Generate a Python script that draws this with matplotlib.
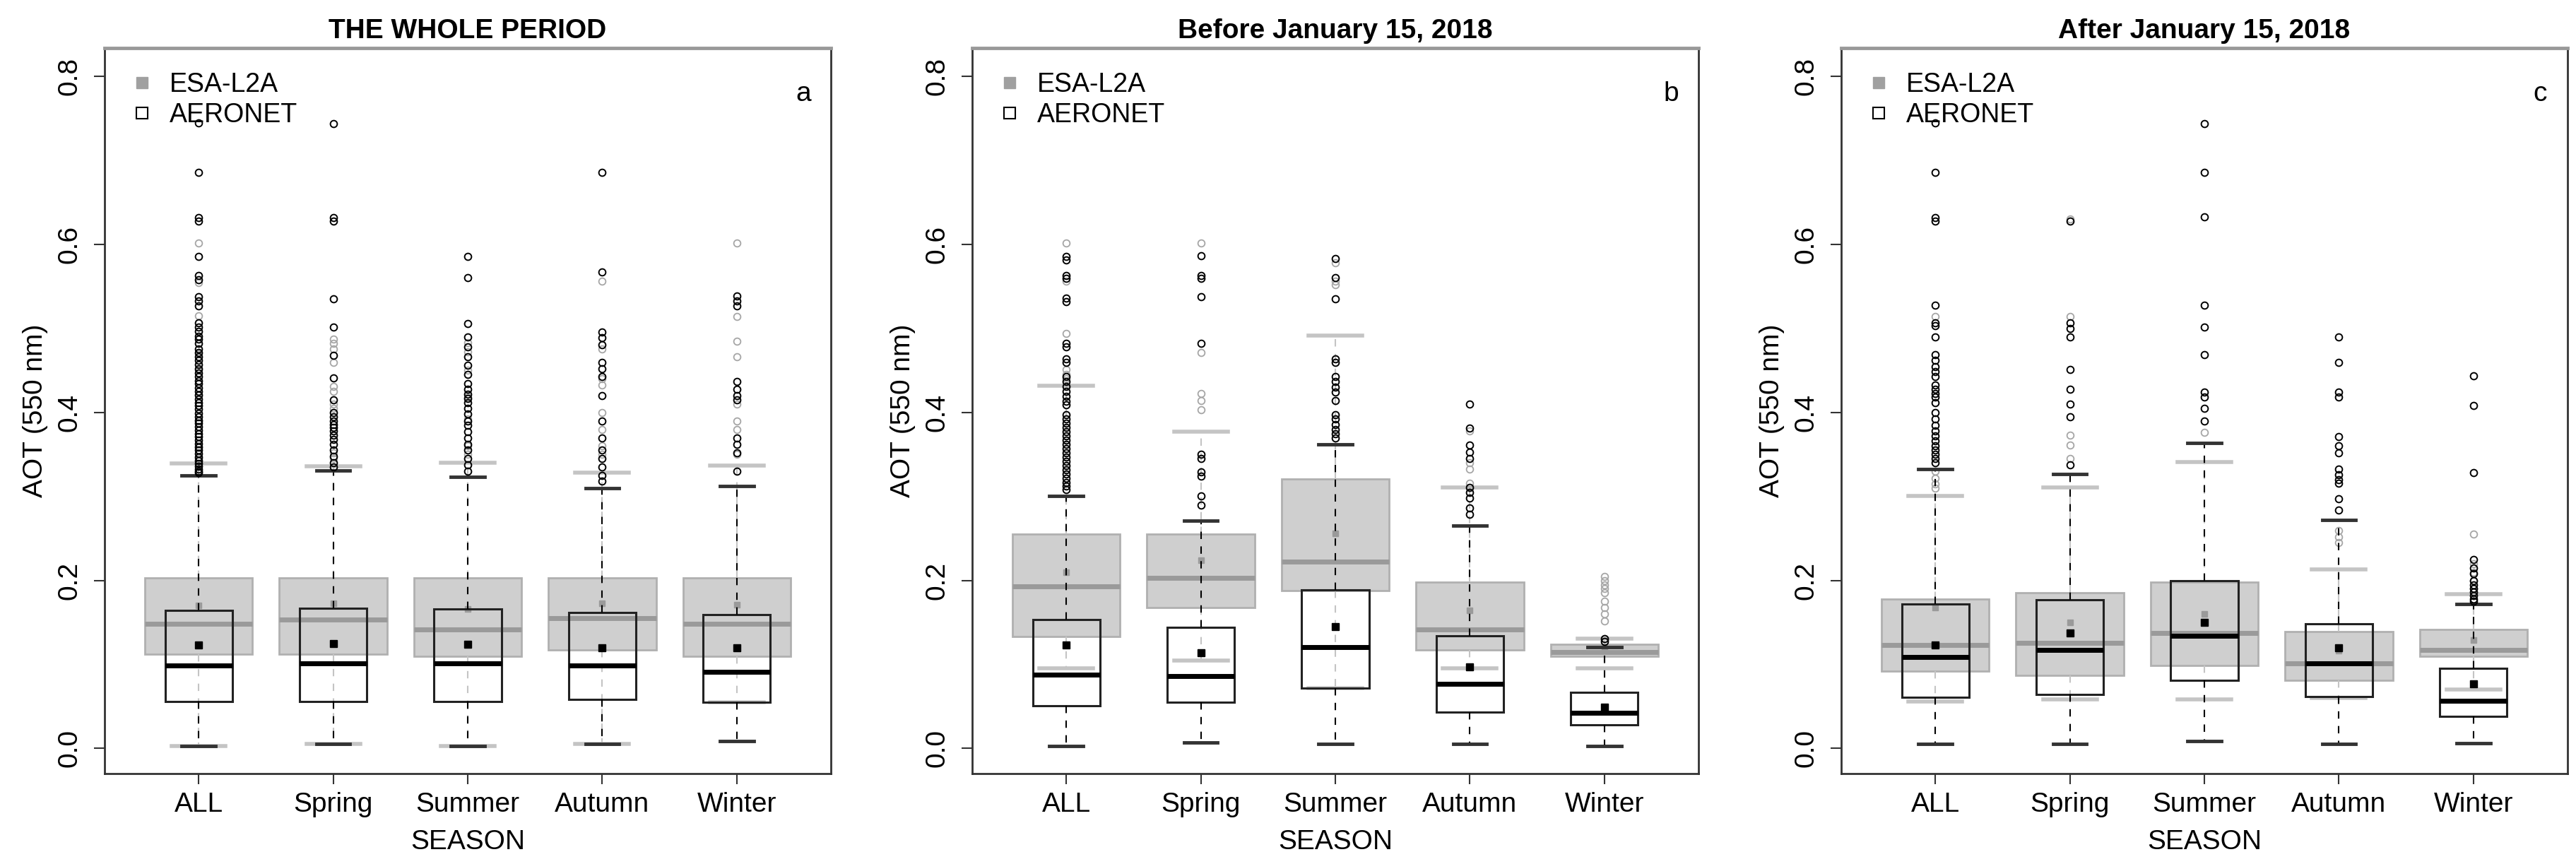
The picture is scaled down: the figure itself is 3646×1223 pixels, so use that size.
import matplotlib
matplotlib.use("Agg")
import matplotlib.pyplot as plt
from matplotlib.lines import Line2D

plt.rcParams['font.family'] = ['Liberation Sans', 'DejaVu Sans']

seasons = ["ALL", "Spring", "Summer", "Autumn", "Winter"]
titles = ["THE WHOLE PERIOD", "Before January 15, 2018", "After January 15, 2018"]
letters = ["a", "b", "c"]

# box stats per season: (whisker low, q1, median, q3, whisker high, mean)
whole_esa = [(0.003, 0.112, 0.148, 0.203, 0.339, 0.170),
             (0.005, 0.112, 0.153, 0.203, 0.336, 0.173),
             (0.003, 0.110, 0.142, 0.203, 0.340, 0.166),
             (0.005, 0.117, 0.155, 0.203, 0.328, 0.173),
             (0.055, 0.110, 0.148, 0.203, 0.337, 0.171)]
whole_aer = [(0.003, 0.056, 0.099, 0.164, 0.325, 0.123),
             (0.005, 0.056, 0.101, 0.167, 0.331, 0.125),
             (0.003, 0.056, 0.101, 0.166, 0.323, 0.124),
             (0.005, 0.058, 0.099, 0.162, 0.310, 0.120),
             (0.009, 0.055, 0.091, 0.159, 0.312, 0.120)]
before_esa = [(0.095, 0.133, 0.193, 0.255, 0.432, 0.210),
              (0.105, 0.168, 0.203, 0.255, 0.377, 0.224),
              (0.072, 0.188, 0.222, 0.321, 0.492, 0.256),
              (0.095, 0.117, 0.142, 0.198, 0.311, 0.164),
              (0.095, 0.110, 0.115, 0.124, 0.131, 0.120)]
before_aer = [(0.003, 0.051, 0.088, 0.153, 0.301, 0.123),
              (0.007, 0.055, 0.086, 0.144, 0.271, 0.114),
              (0.005, 0.072, 0.121, 0.189, 0.362, 0.145),
              (0.005, 0.043, 0.077, 0.134, 0.265, 0.097),
              (0.003, 0.028, 0.042, 0.067, 0.121, 0.049)]
after_esa = [(0.056, 0.092, 0.123, 0.178, 0.301, 0.168),
             (0.058, 0.087, 0.126, 0.185, 0.311, 0.150),
             (0.058, 0.099, 0.137, 0.198, 0.341, 0.160),
             (0.060, 0.081, 0.101, 0.139, 0.213, 0.116),
             (0.070, 0.110, 0.117, 0.142, 0.184, 0.129)]
after_aer = [(0.005, 0.061, 0.109, 0.172, 0.333, 0.123),
             (0.005, 0.064, 0.117, 0.177, 0.327, 0.137),
             (0.009, 0.081, 0.134, 0.200, 0.364, 0.150),
             (0.005, 0.062, 0.101, 0.148, 0.272, 0.120),
             (0.006, 0.038, 0.057, 0.095, 0.172, 0.077)]

# outliers per season
whole_esa_out = [[0.602, 0.555, 0.515, 0.470, 0.450, 0.420, 0.390, 0.360, 0.345],
                 [0.487, 0.482, 0.476, 0.460, 0.431, 0.425, 0.410, 0.405, 0.352, 0.345],
                 [0.483, 0.472, 0.450, 0.418, 0.392, 0.360, 0.350],
                 [0.556, 0.476, 0.440, 0.433, 0.400, 0.380, 0.360, 0.350],
                 [0.602, 0.514, 0.485, 0.466, 0.410, 0.390, 0.380, 0.350]]
whole_aer_out = [[0.745, 0.686, 0.632, 0.628, 0.586, 0.563, 0.558, 0.538, 0.533, 0.527,
                  0.507, 0.502, 0.497, 0.491, 0.487, 0.482, 0.476, 0.471, 0.466, 0.462,
                  0.457, 0.452, 0.447, 0.443, 0.438, 0.434, 0.429, 0.425, 0.421, 0.416,
                  0.412, 0.408, 0.404, 0.399, 0.395, 0.391, 0.387, 0.383, 0.379, 0.375,
                  0.371, 0.367, 0.363, 0.359, 0.355, 0.351, 0.347, 0.343, 0.339, 0.336,
                  0.333, 0.330, 0.328],
                 [0.744, 0.632, 0.628, 0.535, 0.502, 0.468, 0.441, 0.415, 0.400, 0.395,
                  0.390, 0.386, 0.382, 0.378, 0.373, 0.368, 0.362, 0.355, 0.348, 0.340, 0.335],
                 [0.586, 0.561, 0.506, 0.490, 0.478, 0.466, 0.456, 0.445, 0.434, 0.428,
                  0.422, 0.417, 0.412, 0.405, 0.398, 0.390, 0.385, 0.377, 0.370, 0.362,
                  0.355, 0.345, 0.338, 0.330],
                 [0.686, 0.567, 0.496, 0.489, 0.481, 0.460, 0.452, 0.443, 0.420, 0.390,
                  0.370, 0.355, 0.345, 0.335, 0.325, 0.318],
                 [0.539, 0.533, 0.527, 0.437, 0.428, 0.420, 0.415, 0.370, 0.362, 0.352, 0.330]]
before_esa_out = [[0.602, 0.556, 0.494, 0.451, 0.445, 0.440],
                  [0.602, 0.471, 0.423, 0.414, 0.403],
                  [0.578, 0.556, 0.552],
                  [0.378, 0.340, 0.333, 0.316],
                  [0.205, 0.200, 0.195, 0.190, 0.185, 0.175, 0.168, 0.160, 0.152]]
before_aer_out = [[0.586, 0.582, 0.563, 0.560, 0.536, 0.532, 0.482, 0.478, 0.464, 0.460,
                   0.443, 0.437, 0.431, 0.425, 0.419, 0.413, 0.409, 0.397, 0.392, 0.387,
                   0.382, 0.377, 0.372, 0.367, 0.362, 0.357, 0.352, 0.347, 0.342, 0.337,
                   0.332, 0.327, 0.322, 0.317, 0.312, 0.308],
                  [0.587, 0.563, 0.560, 0.538, 0.482, 0.350, 0.345, 0.329, 0.324, 0.301, 0.290],
                  [0.583, 0.561, 0.535, 0.464, 0.460, 0.443, 0.437, 0.430, 0.424, 0.414,
                   0.397, 0.392, 0.386, 0.380, 0.375, 0.370],
                  [0.410, 0.381, 0.361, 0.353, 0.345, 0.311, 0.305, 0.298, 0.286, 0.279],
                  [0.131, 0.127]]
after_esa_out = [[0.514, 0.330, 0.322, 0.315, 0.310],
                 [0.630, 0.514, 0.373, 0.361, 0.345],
                 [0.376],
                 [0.259, 0.252, 0.245],
                 [0.255, 0.220, 0.210, 0.200, 0.190]]
after_aer_out = [[0.745, 0.686, 0.632, 0.628, 0.528, 0.507, 0.503, 0.490, 0.469, 0.462,
                  0.455, 0.449, 0.443, 0.433, 0.428, 0.423, 0.418, 0.412, 0.400, 0.392,
                  0.385, 0.378, 0.372, 0.366, 0.360, 0.355, 0.350, 0.345, 0.340],
                 [0.628, 0.507, 0.500, 0.490, 0.451, 0.428, 0.410, 0.395, 0.338],
                 [0.744, 0.686, 0.633, 0.528, 0.502, 0.469, 0.424, 0.418, 0.405, 0.390],
                 [0.490, 0.460, 0.424, 0.418, 0.371, 0.360, 0.352, 0.333, 0.326, 0.320,
                  0.316, 0.297, 0.284],
                 [0.444, 0.408, 0.328, 0.225, 0.215, 0.208, 0.200, 0.195, 0.190, 0.186,
                  0.182, 0.178, 0.175]]

FS = 28
positions = list(range(1, len(seasons) + 1))


def make_stats(stats, outliers):
    return [dict(whislo=s[0], q1=s[1], med=s[2], q3=s[3], whishi=s[4], mean=s[5], fliers=o)
            for s, o in zip(stats, outliers)]


def draw_panel(ax, esa, aer, esa_out, aer_out, title, letter):
    # ESA-L2A: wide grey boxes
    ax.bxp(make_stats(esa, esa_out), positions=positions, widths=0.8, capwidths=0.4,
           showmeans=True, patch_artist=True, zorder=1,
           boxprops=dict(facecolor="#cfcfcf", edgecolor="#b0b0b0", linewidth=2),
           whiskerprops=dict(color="#c4c4c4", linewidth=1.5, linestyle=(0, (5, 5))),
           capprops=dict(color="#c4c4c4", linewidth=4),
           medianprops=dict(color="#9a9a9a", linewidth=5),
           meanprops=dict(marker="s", markersize=6, markerfacecolor="#9a9a9a",
                          markeredgecolor="#9a9a9a"),
           flierprops=dict(marker="o", markersize=7, markerfacecolor="none",
                           markeredgecolor="#a6a6a6", markeredgewidth=1.3))
    # AERONET: narrow open boxes
    ax.bxp(make_stats(aer, aer_out), positions=positions, widths=0.5, capwidths=0.25,
           showmeans=True, patch_artist=True, zorder=2,
           boxprops=dict(facecolor="none", edgecolor="#222222", linewidth=2.2),
           whiskerprops=dict(color="black", linewidth=1.5, linestyle=(0, (5, 5))),
           capprops=dict(color="#333333", linewidth=3.5),
           medianprops=dict(color="black", linewidth=5),
           meanprops=dict(marker="s", markersize=7, markerfacecolor="black",
                          markeredgecolor="black"),
           flierprops=dict(marker="o", markersize=7, markerfacecolor="none",
                           markeredgecolor="black", markeredgewidth=1.4))

    ax.set_xlim(0.3, 5.7)
    ax.set_ylim(-0.03, 0.834)
    ax.set_xticks(positions)
    ax.set_xticklabels(seasons, fontsize=FS)
    ax.set_yticks([0.0, 0.2, 0.4, 0.6, 0.8])
    ax.set_yticklabels(["0.0", "0.2", "0.4", "0.6", "0.8"], fontsize=FS,
                       rotation=90, va="center")
    ax.tick_params(axis="both", length=11, width=1.5, color="#333333")
    ax.tick_params(axis="x", pad=8)
    ax.tick_params(axis="y", pad=12)
    for side in ["left", "bottom", "right"]:
        ax.spines[side].set_linewidth(2)
        ax.spines[side].set_color("#333333")
    ax.spines["top"].set_linewidth(3.5)
    ax.spines["top"].set_color("#999999")

    ax.set_xlabel("SEASON", fontsize=FS, labelpad=12)
    ax.set_ylabel("AOT (550 nm)", fontsize=FS, labelpad=9)
    ax.set_title(title, fontsize=FS, fontweight="bold", pad=10)
    ax.text(0.962, 0.937, letter, transform=ax.transAxes, fontsize=FS,
            ha="center", va="center")

    handles = [Line2D([], [], linestyle="none", marker="s", markersize=11,
                      markerfacecolor="#a0a0a0", markeredgecolor="#a0a0a0"),
               Line2D([], [], linestyle="none", marker="s", markersize=11,
                      markerfacecolor="none", markeredgecolor="black", markeredgewidth=1.5)]
    ax.legend(handles, ["ESA-L2A", "AERONET"], loc="upper left", frameon=False,
              fontsize=FS - 1, handlelength=1.0, handletextpad=0.55,
              borderaxespad=0.5, borderpad=0.4, labelspacing=0.2)


fig = plt.figure(figsize=(36.46, 12.23), dpi=100)
lefts = [148 / 3646, 1376 / 3646, 2606 / 3646]
panels = [(whole_esa, whole_aer, whole_esa_out, whole_aer_out),
          (before_esa, before_aer, before_esa_out, before_aer_out),
          (after_esa, after_aer, after_esa_out, after_aer_out)]

for left, data, title, letter in zip(lefts, panels, titles, letters):
    ax = fig.add_axes([left, 1 - 1095 / 1223, 1028 / 3646, 1027 / 1223])
    draw_panel(ax, *data, title, letter)

fig.savefig("out.png", dpi=100)
